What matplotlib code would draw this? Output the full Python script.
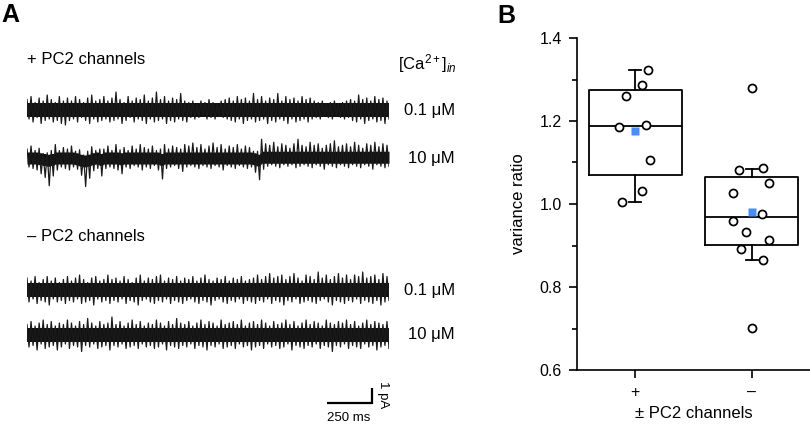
import numpy as np
import matplotlib
matplotlib.use("Agg")
import matplotlib.pyplot as plt

plt.rcParams['font.family'] = ['Liberation Sans', 'DejaVu Sans']
plt.rcParams['mathtext.fontset'] = 'custom'
plt.rcParams['mathtext.rm'] = 'Liberation Sans'
plt.rcParams['mathtext.it'] = 'Liberation Sans:italic'

# ---------------- Panel B data (variance ratio) ----------------
categories = ['+', '–']
plus_vals = [1.323, 1.286, 1.260, 1.186, 1.190, 1.106, 1.031, 1.005]
plus_jitter = [0.11, 0.06, -0.08, -0.14, 0.09, 0.13, 0.06, -0.11]
minus_vals = [1.280, 1.082, 1.086, 1.051, 1.026, 0.975, 0.960, 0.932, 0.913, 0.891, 0.865, 0.702]
minus_jitter = [0.0, -0.11, 0.10, 0.15, -0.16, 0.09, -0.16, -0.05, 0.15, -0.09, 0.10, 0.0]
box_q1 = [1.070, 0.902]
box_med = [1.188, 0.968]
box_q3 = [1.275, 1.065]
box_whislo = [1.005, 0.865]
box_whishi = [1.323, 1.084]
box_mean = [1.176, 0.980]

# ---------------- Panel A data (current traces, pA) ----------------
# spike extents (pA above / below baseline)
t1_up = [0.7,0.9,0.5,0.8,0.6,1.0,0.7,0.5,0.9,0.6,
         0.8,0.6,0.9,0.7,0.5,0.8,1.0,0.6,0.7,0.9,
         0.6,0.8,1.2,0.7,0.5,0.9,0.6,0.8,0.7,1.0,
         0.6,0.8,1.2,0.7,0.9,0.6,0.8,0.7,1.1,0.6,
         0.5,0.6,0.4,0.6,0.5,0.7,0.5,0.4,0.6,0.7,
         0.8,0.6,0.9,0.7,0.8,0.6,1.1,0.7,0.9,0.6,
         0.8,0.7,1.1,0.6,0.9,0.7,0.8,0.6,0.9,0.7,
         0.8,0.6,0.5,0.6,0.4,0.5,0.6,0.4,0.5,0.6,
         0.7,0.6,1.0,0.7,0.8,0.6,0.9,0.7,0.8,0.6]
t1_down = [0.6,0.8,0.5,0.9,0.7,0.6,0.8,0.7,0.9,1.0,
           0.7,0.6,0.8,0.5,0.7,0.9,0.6,0.8,0.7,0.6,
           0.8,0.7,0.6,0.9,0.7,0.5,0.8,0.6,0.7,0.9,
           0.6,0.8,0.7,0.6,0.9,0.7,0.8,0.6,0.7,0.8,
           0.5,0.6,0.5,0.4,0.6,0.5,0.6,0.4,0.5,0.6,
           0.7,0.8,0.6,0.9,0.7,0.6,0.8,0.7,0.6,0.9,
           0.7,0.8,0.6,0.7,0.9,0.6,0.8,0.7,0.6,0.8,
           0.6,0.5,0.6,0.4,0.5,0.6,0.4,0.5,0.6,0.5,
           0.7,0.8,0.6,0.9,0.7,0.6,0.8,0.7,0.9,0.6]
t2_up = [0.6,0.8,0.5,0.7,0.4,0.5,0.6,0.9,0.5,0.7,
         0.6,0.8,0.5,0.7,0.4,0.6,0.8,0.5,0.7,0.6,
         0.8,0.5,0.9,0.6,0.7,0.5,0.8,0.6,0.9,0.7,
         0.6,0.8,0.5,0.7,0.9,0.6,0.8,0.7,0.6,0.9,
         0.8,1.0,0.7,0.9,0.6,0.8,1.0,0.7,0.9,0.6,
         0.8,0.7,0.9,0.6,0.8,0.7,0.5,0.6,1.2,0.9,
         0.8,1.0,0.7,0.9,0.8,0.6,0.9,1.2,0.8,0.7,
         1.0,0.8,0.9,0.6,0.8,0.9,1.1,0.7,0.8,0.9,
         0.7,1.0,0.8,0.6,0.9,0.8,1.0,0.7,0.9,0.8]
t2_down = [0.6,0.7,0.8,1.0,1.2,1.7,1.1,0.8,0.6,0.7,
           0.8,0.6,0.7,1.0,1.7,1.2,0.8,0.7,1.1,0.7,
           0.6,0.7,0.8,1.0,0.6,0.7,0.5,0.6,0.8,0.6,
           0.7,0.5,0.8,1.3,0.7,0.6,0.5,0.7,0.9,0.6,
           0.5,0.6,0.7,0.5,0.6,0.7,0.5,0.6,0.8,0.5,
           0.6,0.7,0.5,0.6,0.7,0.6,0.9,1.3,0.8,0.6,
           0.5,0.6,0.7,0.5,0.6,0.5,0.7,0.6,0.5,0.6,
           0.7,0.5,0.6,0.8,0.5,0.6,0.7,0.5,0.6,0.7,
           0.5,0.6,0.7,0.5,0.6,0.8,0.5,0.6,0.7,0.6]
t2_base = [0,0,0,-0.05,-0.1,-0.15,-0.1,0,0,0,
           0,0,-0.05,-0.15,-0.2,-0.15,-0.05,0,-0.1,0,
           0,0,0,-0.05,0,0,0,0,0,0,
           0,0,0,-0.1,0,0,0,0,0,0,
           0,0,0,0,0,0,0,0,0,0,
           0,0,0,0,0,0,-0.05,-0.15,0.05,0.05,
           0.05,0.05,0.05,0.05,0.05,0.05,0.05,0.05,0.05,0.05,
           0.05,0.05,0.05,0.05,0.05,0.05,0.05,0.05,0.05,0.05,
           0.05,0.05,0.05,0.05,0.05,0.05,0.05,0.05,0.05,0.05]
t3_up = [0.8,0.6,0.9,0.5,0.7,0.9,0.6,0.8,0.5,0.7,
         0.9,0.6,0.8,1.0,0.7,0.5,0.8,0.9,0.6,0.7,
         1.0,0.7,0.8,0.6,0.9,0.7,0.5,0.8,1.0,0.6,
         0.8,0.7,0.9,1.0,0.6,0.8,0.7,0.9,0.6,0.8,
         0.7,0.9,0.6,0.8,1.0,0.7,0.6,0.8,0.7,0.9,
         0.6,0.8,0.7,0.9,0.6,0.7,0.8,1.0,0.7,0.9,
         1.1,0.8,0.9,1.0,0.7,0.9,1.1,0.8,0.6,1.0,
         0.9,0.7,1.2,0.8,1.0,0.7,0.9,1.1,0.8,1.0,
         0.7,1.0,0.9,1.2,0.8,0.9,1.0,0.7,1.1,0.9]
t3_down = [0.8,0.6,0.9,0.7,0.8,1.0,0.6,0.8,0.7,0.9,
           0.7,0.8,0.6,0.9,0.8,0.7,1.0,0.6,0.8,0.7,
           0.9,0.7,0.8,0.6,0.9,0.7,0.8,1.0,0.7,0.6,
           0.8,0.9,0.7,0.8,0.6,0.9,0.7,0.8,0.9,0.7,
           0.6,0.8,0.9,0.7,0.8,1.0,0.7,0.6,0.8,0.9,
           0.7,0.8,0.6,0.9,0.7,0.8,0.9,0.7,0.8,0.6,
           0.9,0.7,0.8,1.0,0.7,0.8,0.6,0.9,0.8,0.7,
           0.8,0.9,0.7,0.6,0.8,1.0,0.7,0.8,0.9,0.7,
           0.8,0.6,0.9,0.7,0.8,0.9,0.7,1.0,0.8,0.7]
t4_up = [0.7,0.9,0.6,0.8,1.0,0.7,0.9,0.6,0.8,0.7,
         1.0,0.8,0.6,0.9,0.7,1.1,0.8,0.6,0.9,0.7,
         0.8,1.2,0.7,0.9,0.6,0.8,1.0,0.7,0.9,0.6,
         0.8,0.7,1.0,0.8,0.6,0.9,0.7,1.1,0.8,0.7,
         0.9,0.6,0.8,1.0,0.7,0.9,0.8,0.6,1.0,0.7,
         0.8,0.9,0.7,1.0,0.6,0.8,0.9,0.7,1.0,0.8,
         0.6,0.9,0.7,0.8,1.0,0.7,0.9,0.6,0.8,1.0,
         0.7,0.9,0.8,0.6,1.0,0.8,0.7,0.9,0.8,1.0,
         0.7,0.9,0.6,0.8,1.0,0.7,0.9,0.8,0.7,0.9]
t4_down = [0.8,0.7,1.0,0.6,0.9,0.8,0.7,1.0,0.8,0.6,
           0.9,0.7,0.8,1.1,0.7,0.8,0.6,0.9,0.8,0.7,
           1.0,0.7,0.8,0.6,0.9,0.8,0.7,0.9,0.6,0.8,
           0.7,0.9,0.8,0.6,1.0,0.7,0.8,0.9,0.7,0.8,
           0.6,0.9,0.7,0.8,1.0,0.7,0.8,0.6,0.9,0.8,
           0.7,0.9,0.6,0.8,0.7,1.0,0.8,0.7,0.9,0.6,
           0.8,0.7,0.9,0.8,0.6,1.0,0.7,0.8,0.9,0.7,
           0.8,0.6,0.9,0.7,0.8,1.1,0.7,0.8,0.6,0.9,
           0.7,0.8,0.9,0.6,0.8,0.7,1.0,0.8,0.7,0.9]
core_half = [0.45, 0.40, 0.47, 0.47]   # dense noise core half-width, pA
trace_duration = 2.0  # s
conc_labels = ['0.1 μM', '10 μM', '0.1 μM', '10 μM']

W, H = 810, 429
fig = plt.figure(figsize=(W / 100, H / 100), dpi=100)

def px(x, y):
    return x / W, 1 - y / H

# ---------------- Panel A ----------------
PXPA = 15.0  # pixels per pA
axA = fig.add_axes([27 / W, 0, 362 / W, 1])
axA.set_xlim(0, trace_duration)
axA.set_ylim(-(H - 110) / PXPA, 110 / PXPA)
axA.axis('off')

trace_y_px = [110, 158, 290, 335]
traces = [(t1_up, t1_down, None), (t2_up, t2_down, t2_base),
          (t3_up, t3_down, None), (t4_up, t4_down, None)]
for k, (up, dn, base) in enumerate(traces):
    off = -(trace_y_px[k] - 110) / PXPA
    n = len(up)
    t = np.linspace(0, trace_duration, 2 * n)
    b = np.zeros(2 * n) if base is None else np.repeat(np.asarray(base, float), 2)
    zig = np.empty(2 * n)
    zig[0::2] = np.asarray(up, float)
    zig[1::2] = -np.asarray(dn, float)
    axA.fill_between(t, off + b - core_half[k], off + b + core_half[k], color='#111111', lw=0)
    axA.plot(t, off + b + zig, color='#1a1a1a', lw=0.9)
    fig.text(*px(455, trace_y_px[k]), conc_labels[k], ha='right', va='center', fontsize=12)

# scale bar: 250 ms x 1 pA
sb_x0 = (327 - 27) / 181.0
sb_y0 = -(403 - 110) / PXPA
axA.plot([sb_x0, sb_x0 + 0.25, sb_x0 + 0.25], [sb_y0, sb_y0, sb_y0 + 1.0],
         color='k', lw=1.6, solid_joinstyle='miter', solid_capstyle='butt')
fig.text(*px(349, 418), '250 ms', ha='center', va='center', fontsize=9.5)
fig.text(*px(383, 395), '1 pA', ha='center', va='center', fontsize=9.5, rotation=-90)

fig.text(*px(27, 59), '+ PC2 channels', ha='left', va='center', fontsize=12)
fig.text(*px(27, 237), '– PC2 channels', ha='left', va='center', fontsize=12)
fig.text(*px(398, 64), r'[Ca$^{2+}$]$_{\it in}$', ha='left', va='center', fontsize=12)

fig.text(*px(1, 3), 'A', ha='left', va='top', fontsize=18, fontweight='bold')
fig.text(*px(497, 4), 'B', ha='left', va='top', fontsize=18, fontweight='bold')

# ---------------- Panel B ----------------
axB = fig.add_axes([577 / W, 1 - 370 / H, (W - 577) / W, (370 - 38) / H])
stats = []
for i in range(2):
    stats.append(dict(med=box_med[i], q1=box_q1[i], q3=box_q3[i],
                      whislo=box_whislo[i], whishi=box_whishi[i],
                      mean=box_mean[i], fliers=[]))
lw = 1.3
axB.bxp(stats, positions=[0, 1], widths=0.8, capwidths=0.1, showmeans=True,
        showfliers=False, patch_artist=False,
        boxprops=dict(color='k', lw=lw), whiskerprops=dict(color='k', lw=lw),
        capprops=dict(color='k', lw=lw), medianprops=dict(color='k', lw=lw),
        meanprops=dict(marker='s', markerfacecolor='#4a8df5', markeredgecolor='none',
                       markersize=6), manage_ticks=False)
axB.plot(np.array(plus_jitter) + 0, plus_vals, 'o', mfc='white', mec='k', mew=1.25,
         ms=5.8, zorder=5, clip_on=False)
axB.plot(np.array(minus_jitter) + 1, minus_vals, 'o', mfc='white', mec='k', mew=1.25,
         ms=5.8, zorder=5, clip_on=False)

axB.set_xlim(-0.5, 1.5)
axB.set_ylim(0.6, 1.4)
axB.set_yticks([0.6, 0.8, 1.0, 1.2, 1.4])
axB.set_yticklabels(['0.6', '0.8', '1.0', '1.2', '1.4'])
axB.set_yticks([0.7, 0.9, 1.1, 1.3], minor=True)
axB.set_xticks([0, 1])
axB.set_xticklabels(categories)
for s in ['top', 'right']:
    axB.spines[s].set_visible(False)
for s in ['left', 'bottom']:
    axB.spines[s].set_linewidth(1.2)
axB.tick_params(axis='both', which='major', length=6, width=1.2, labelsize=11.5, pad=5)
axB.tick_params(axis='y', which='minor', length=3.5, width=1.2)
axB.set_ylabel('variance ratio', fontsize=12)
axB.yaxis.set_label_coords(-0.253, 0.5)
axB.set_xlabel('± PC2 channels', fontsize=12)
axB.xaxis.set_label_coords(0.5, -(413 - 370) / (370 - 38))
axB.xaxis.label.set_va('center')
axB.yaxis.label.set_va('center')

fig.savefig('out.png', dpi=100)
